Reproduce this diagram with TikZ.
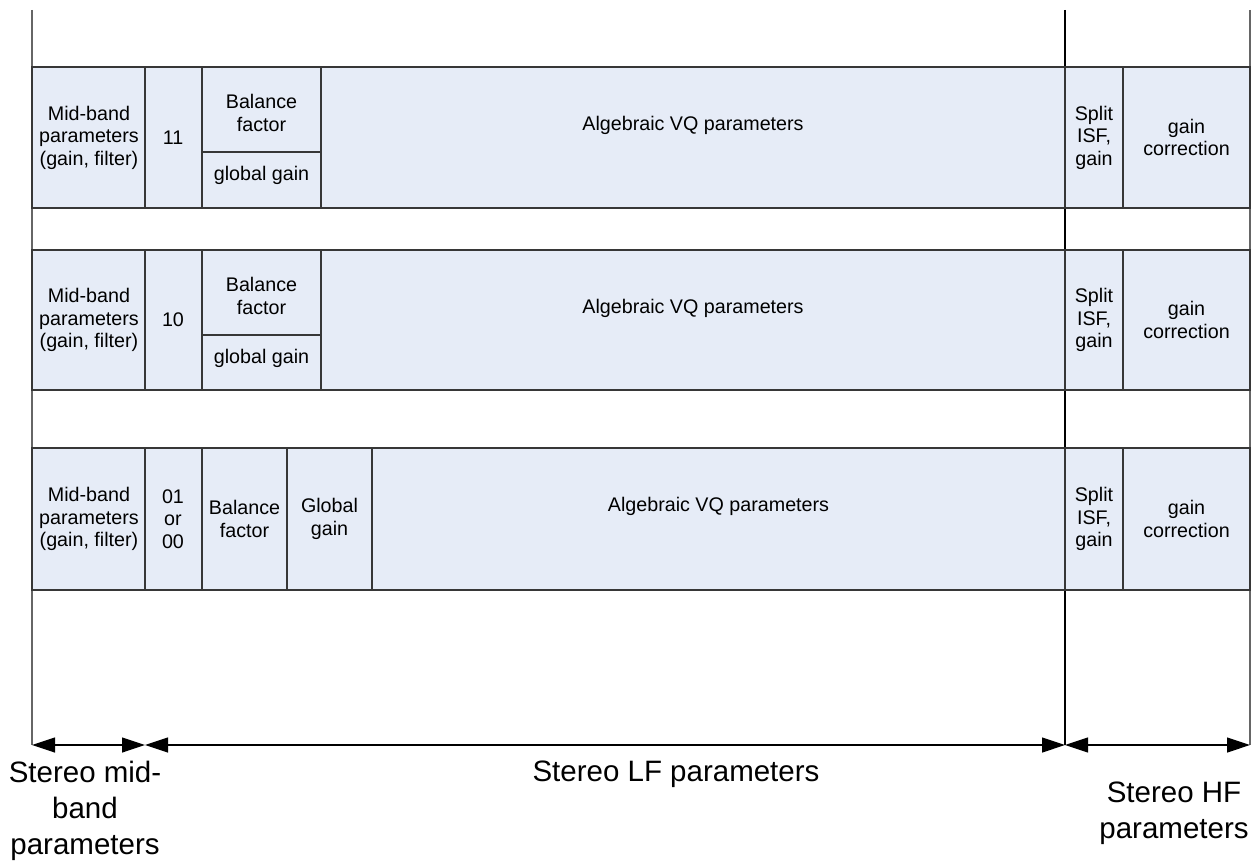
\documentclass[tikz,border=0pt]{standalone}
\usepackage{fontspec}
\setmainfont{Liberation Sans}
\usetikzlibrary{arrows.meta}
\definecolor{cellfill}{RGB}{230,236,247}
\definecolor{cellline}{RGB}{55,55,55}
\tikzset{
  cell/.style={fill=cellfill,draw=cellline,line width=1.2pt},
  small/.style={font=\fontsize{19.7}{22.5}\selectfont,align=center,inner sep=0pt},
  big/.style={font=\fontsize{29.5}{36}\selectfont,align=center,inner sep=0pt},
  guide/.style={draw=black,line width=1.2pt},
  guidegray/.style={draw=gray!80!black,line width=1.2pt},
  span/.style={line width=1.2pt,{Triangle[length=23pt,width=15pt]}-{Triangle[length=23pt,width=15pt]}}
}
\begin{document}
\begin{tikzpicture}[x=1pt,y=-1pt]
\useasboundingbox (0,0) rectangle (1253,866);
% guide lines
\coordinate (gLt) at (32,10);   \coordinate (gLb) at (32,745);
\coordinate (gMt) at (1065,10); \coordinate (gMb) at (1065,745);
\coordinate (gRt) at (1250,10); \coordinate (gRb) at (1250,745);
\draw[guidegray] (gLt) -- (gLb);
\draw[guide] (gMt) -- (gMb);
\draw[guidegray] (gRt) -- (gRb);
% rows 1 and 2
\foreach \t/\b/\s in {67/208/152, 250/390/335}{
  \draw[cell] (32,\t) rectangle (145,\b);
  \draw[cell] (145,\t) rectangle (202,\b);
  \draw[cell] (202,\t) rectangle (321,\s);
  \draw[cell] (202,\s) rectangle (321,\b);
  \draw[cell] (321,\t) rectangle (1065,\b);
  \draw[cell] (1065,\t) rectangle (1123,\b);
  \draw[cell] (1123,\t) rectangle (1250,\b);
}
% row 3
\draw[cell] (32,448) rectangle (145,590);
\draw[cell] (145,448) rectangle (202,590);
\draw[cell] (202,448) rectangle (287,590);
\draw[cell] (287,448) rectangle (372,590);
\draw[cell] (372,448) rectangle (1065,590);
\draw[cell] (1065,448) rectangle (1123,590);
\draw[cell] (1123,448) rectangle (1250,590);
% texts row 1
\node[small] (m1) at (89,137.5) {Mid-band\\parameters\\(gain, filter)};
\node[small] (c1) at (173,137.5) {11};
\node[small] (b1) at (261.5,113) {Balance\\factor};
\node[small] (g1) at (261.5,175) {global gain};
\node[small] (a1) at (693,125) {Algebraic VQ parameters};
\node[small] (s1) at (1094,137.5) {Split\\ISF,\\gain};
\node[small] (h1) at (1186.5,137.5) {gain\\correction};
% texts row 2
\node[small] (m2) at (89,320) {Mid-band\\parameters\\(gain, filter)};
\node[small] (c2) at (173,320) {10};
\node[small] (b2) at (261.5,296) {Balance\\factor};
\node[small] (g2) at (261.5,358) {global gain};
\node[small] (a2) at (693,308) {Algebraic VQ parameters};
\node[small] (s2) at (1094,320) {Split\\ISF,\\gain};
\node[small] (h2) at (1186.5,320) {gain\\correction};
% texts row 3
\node[small] (m3) at (89,519) {Mid-band\\parameters\\(gain, filter)};
\node[small] (c3) at (173,519) {01\\or\\00};
\node[small] (b3) at (244.5,519) {Balance\\factor};
\node[small] (g3) at (329.5,519) {Global\\gain};
\node[small] (a3) at (718.5,506) {Algebraic VQ parameters};
\node[small] (s3) at (1094,519) {Split\\ISF,\\gain};
\node[small] (h3) at (1186.5,519) {gain\\correction};
% spans
\coordinate (p1) at (32,745);
\coordinate (p2) at (145,745);
\coordinate (p3) at (1065,745);
\coordinate (p4) at (1250,745);
\draw[span] (p1) -- (p2);
\draw[span] (p2) -- (p3);
\draw[span] (p3) -- (p4);
\node[big] (l1) at (85,811) {Stereo mid-\\band\\parameters};
\node[big] (l2) at (676,774) {Stereo LF parameters};
\node[big] (l3) at (1174,813) {Stereo HF\\parameters};
\end{tikzpicture}
\end{document}
